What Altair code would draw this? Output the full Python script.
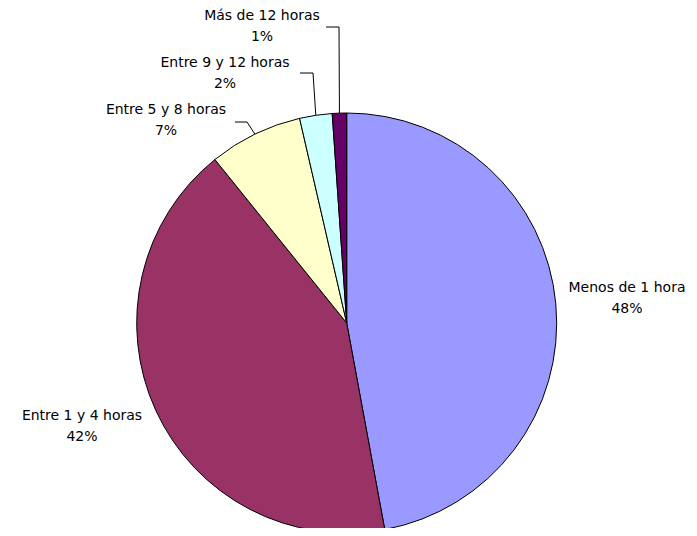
import altair as alt
import pandas as pd

# ---- data ----
categories = ["Menos de 1 hora", "Entre 1 y 4 horas", "Entre 5 y 8 horas",
              "Entre 9 y 12 horas", "Más de 12 horas"]
values = [47.1, 42.1, 7.2, 2.5, 1.1]
pct_labels = ["48%", "42%", "7%", "2%", "1%"]

# ---- styles ----
colors = ["#9999FF", "#993366", "#FFFFCC", "#CCFFFF", "#660066"]

# ---- layout (view pixels) ----
W, H = 681, 520
CX, CY, R = 338.7, 315.0, 210
label_x = [619, 74, 158, 217, 254]
label_y = [280, 408, 102, 55, 8]   # first text line
# leader: label end x, elbow x, horizontal y (None = no leader)
lead_x0 = [None, None, 227, 292, 318]
lead_x1 = [None, None, 239, 305, 331]
lead_y = [None, None, 114, 65, 19]

df = pd.DataFrame({
    "category": categories,
    "value": values,
    "label": [f"{c}\n{p}" for c, p in zip(categories, pct_labels)],
    "order": list(range(len(categories))),
    "label_x": label_x,
    "label_y": label_y,
    "lead_x0": lead_x0,
    "lead_x1": lead_x1,
    "lead_y": lead_y,
})

base = alt.Chart(df)

pie = base.mark_arc(outerRadius=R, stroke="black", strokeWidth=1).encode(
    theta=alt.Theta("value:Q", stack=True),
    color=alt.Color("category:N", scale=alt.Scale(domain=categories, range=colors), legend=None),
    order=alt.Order("order:Q"),
    x=alt.value(CX),
    y=alt.value(CY),
)

geo = base.transform_window(
    cum="sum(value)", sort=[alt.SortField("order")], frame=[None, 0]
).transform_joinaggregate(
    total="sum(value)"
).transform_calculate(
    mid="(datum.cum - datum.value/2) / datum.total * 2 * PI",
).transform_calculate(
    ex=f"{CX} + {R} * sin(datum.mid)",
    ey=f"{CY} - {R} * cos(datum.mid)",
)

leaders = geo.transform_filter("isValid(datum.lead_y)")

rule_h = leaders.mark_rule(color="black", strokeWidth=1).encode(
    x=alt.X("lead_x0:Q", scale=None),
    x2="lead_x1:Q",
    y=alt.Y("lead_y:Q", scale=None),
    y2="lead_y:Q",
)

rule_v = leaders.mark_rule(color="black", strokeWidth=1).encode(
    x=alt.X("lead_x1:Q", scale=None),
    x2="ex:Q",
    y=alt.Y("lead_y:Q", scale=None),
    y2="ey:Q",
)

text = base.mark_text(
    font="DejaVu Sans", fontSize=14, lineBreak="\n", lineHeight=21,
    align="center", baseline="middle", color="#000000",
).encode(
    x=alt.X("label_x:Q", scale=None),
    y=alt.Y("label_y:Q", scale=None),
    text="label:N",
)

chart = alt.layer(pie, rule_h, rule_v, text).properties(
    width=W, height=H,
    autosize=alt.AutoSizeParams(type="none"),
    padding=0,
    background="white",
).configure_view(stroke=None)

chart.save("out.html", embed_options={"renderer": "svg", "actions": False})
